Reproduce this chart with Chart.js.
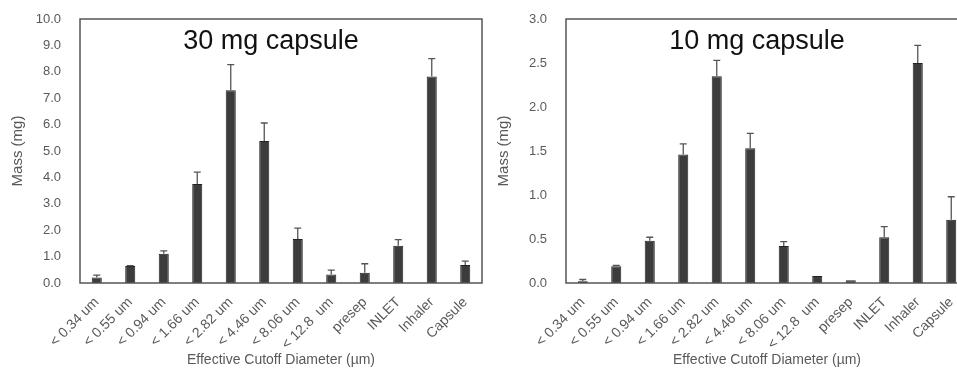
<!DOCTYPE html>
<html>
<head>
<meta charset="utf-8">
<script src="https://cdn.jsdelivr.net/npm/chart.js@4/dist/chart.umd.min.js"></script>
<style>
  body { margin: 0; background: #fff; overflow: hidden; width: 957px; height: 371px; position: relative; }
  canvas { position: absolute; top: 0; }
</style>
</head>
<body>
<canvas id="chart30" width="484" height="371" style="left:0px"></canvas>
<canvas id="chart10" width="484" height="371" style="left:486px"></canvas>
<script>
// stage labels (same for both panels)
var stages = ['< 0.34 um', '< 0.55 um', '< 0.94 um', '< 1.66 um', '< 2.82 um', '< 4.46 um',
              '< 8.06 um', '< 12.8  um', 'presep', 'INLET', 'Inhaler', 'Capsule'];

// 30 mg capsule: mean mass (mg) and standard deviation
var mass30 = [0.21, 0.64, 1.11, 3.75, 7.30, 5.38, 1.67, 0.32, 0.39, 1.41, 7.82, 0.68];
var sd30   = [0.09, 0.02, 0.11, 0.45, 0.97, 0.68, 0.41, 0.17, 0.34, 0.23, 0.68, 0.15];

// 10 mg capsule
var mass10 = [0.02, 0.19, 0.48, 1.46, 2.35, 1.53, 0.42, 0.08, 0.03, 0.52, 2.50, 0.72];
var sd10   = [0.02, 0.01, 0.04, 0.12, 0.18, 0.17, 0.05, 0.00, 0.00, 0.12, 0.20, 0.26];

var FONT = "'Liberation Sans', Arial, sans-serif";
var GREY = '#595959';

// upward-only error bars with a small cap
var errorBars = {
    id: 'errorBars',
    afterDatasetsDraw: function(chart) {
        var ctx = chart.ctx;
        var sd = chart.options.plugins.errorBars.sd;
        var meta = chart.getDatasetMeta(0);
        var y = chart.scales.y;
        var values = chart.data.datasets[0].data;
        ctx.save();
        ctx.strokeStyle = '#555';
        ctx.lineWidth = 1.3;
        meta.data.forEach(function(bar, i) {
            if (!sd[i]) return;
            var y0 = y.getPixelForValue(values[i]);
            var y1 = y.getPixelForValue(values[i] + sd[i]);
            ctx.beginPath();
            ctx.moveTo(bar.x, y0);
            ctx.lineTo(bar.x, y1);
            ctx.moveTo(bar.x - 3.5, y1);
            ctx.lineTo(bar.x + 3.5, y1);
            ctx.stroke();
        });
        ctx.restore();
    }
};

// plot frame and the panel title inside it
var frameAndTitle = {
    id: 'frameAndTitle',
    afterDraw: function(chart) {
        var a = chart.chartArea;
        var ctx = chart.ctx;
        ctx.save();
        ctx.strokeStyle = '#555';
        ctx.lineWidth = 1.5;
        ctx.strokeRect(a.left, a.top, a.right - a.left, a.bottom - a.top);
        ctx.fillStyle = '#111';
        ctx.font = '27px ' + FONT;
        ctx.textAlign = 'center';
        ctx.textBaseline = 'alphabetic';
        ctx.fillText(chart.options.plugins.frameAndTitle.text, (a.left + a.right) / 2 - 10, a.top + 30);
        ctx.restore();
    }
};

function makeChart(id, title, values, sd, maxY, step) {
    var ctx = document.getElementById(id).getContext('2d');
    return new Chart(ctx, {
        type: 'bar',
        data: {
            labels: stages,
            datasets: [{
                data: values,
                backgroundColor: '#3c3c3c',
                borderColor: '#222',
                borderWidth: 1,
                barPercentage: 0.3,
                categoryPercentage: 1
            }]
        },
        options: {
            responsive: false,
            animation: false,
            devicePixelRatio: 1,
            layout: { padding: { top: 19, right: 2, left: 0, bottom: 0 } },
            plugins: {
                legend: { display: false },
                tooltip: { enabled: false },
                errorBars: { sd: sd },
                frameAndTitle: { text: title }
            },
            scales: {
                x: {
                    grid: { display: false },
                    border: { display: false },
                    ticks: {
                        color: GREY,
                        font: { family: FONT, size: 14 },
                        maxRotation: 45,
                        minRotation: 45,
                        padding: 3,
                        autoSkip: false
                    },
                    title: {
                        display: true,
                        text: 'Effective Cutoff Diameter (µm)',
                        color: GREY,
                        font: { family: FONT, size: 14 },
                        padding: { top: 0, bottom: 2 }
                    },
                    afterFit: function(s) { s.height = 88; }
                },
                y: {
                    min: 0,
                    max: maxY,
                    grid: { display: false },
                    border: { display: false },
                    ticks: {
                        stepSize: step,
                        color: GREY,
                        font: { family: FONT, size: 13 },
                        padding: 11,
                        callback: function(v) { return v.toFixed(1); }
                    },
                    title: {
                        display: true,
                        text: 'Mass (mg)',
                        color: GREY,
                        font: { family: FONT, size: 15 },
                        padding: { top: 9, bottom: 0 }
                    },
                    afterFit: function(s) { s.width = 80; }
                }
            }
        },
        plugins: [errorBars, frameAndTitle]
    });
}

makeChart('chart30', '30 mg capsule', mass30, sd30, 10, 1);
makeChart('chart10', '10 mg capsule', mass10, sd10, 3, 0.5);
</script>
</body>
</html>
